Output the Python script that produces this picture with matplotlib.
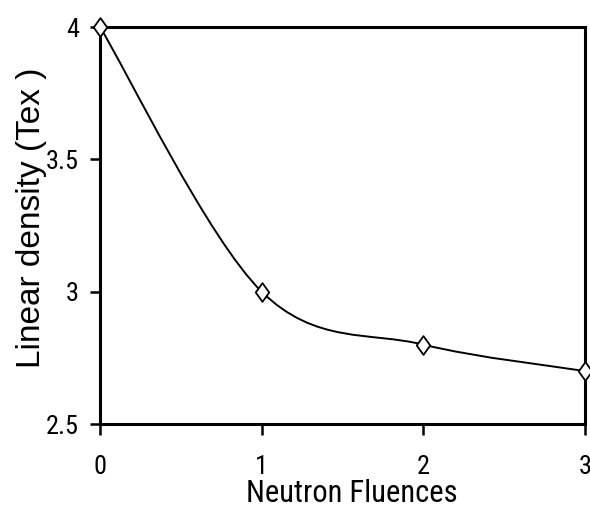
import matplotlib
matplotlib.use("Agg")
import matplotlib.pyplot as plt
from matplotlib.path import Path
from matplotlib.patches import PathPatch
import numpy as np

fluence = [0, 1, 2, 3]
density = [4.0, 3.0, 2.8, 2.7]
xticks = [0, 1, 2, 3]
yticks = [2.5, 3.0, 3.5, 4.0]
yticklabels = ["2.5", "3", "3.5", "4"]

narrow = ["Roboto Condensed", "Archivo Narrow", "Liberation Sans", "DejaVu Sans"]
regular = ["Liberation Sans", "DejaVu Sans"]

W, H = 590, 511
fig = plt.figure(figsize=(W / 100, H / 100), dpi=100)
left, right, top, bottom = 100, 585, 27, 424
ax = fig.add_axes([left / W, 1 - bottom / H, (right - left) / W, (bottom - top) / H])

# Smoothed line (Catmull-Rom style Bezier through the data points)
pts = np.column_stack([fluence, density]).astype(float)
n = len(pts)
verts = [tuple(pts[0])]
codes = [Path.MOVETO]
for i in range(n - 1):
    p0 = pts[i - 1] if i > 0 else pts[i]
    p1 = pts[i]
    p2 = pts[i + 1]
    p3 = pts[i + 2] if i + 2 < n else pts[i + 1]
    c1 = p1 + (p2 - p0) / 6.0
    c2 = p2 - (p3 - p1) / 6.0
    verts += [tuple(c1), tuple(c2), tuple(p2)]
    codes += [Path.CURVE4] * 3
ax.add_patch(PathPatch(Path(verts, codes), facecolor="none", edgecolor="black",
                       linewidth=1.4, clip_on=False, zorder=2))

diamond = Path([(0, 1), (0.72, 0), (0, -1), (-0.72, 0), (0, 1)],
               [Path.MOVETO, Path.LINETO, Path.LINETO, Path.LINETO, Path.CLOSEPOLY])
ax.plot(fluence, density, linestyle="none", marker=diamond, markersize=13.5,
        markerfacecolor="white", markeredgecolor="black", markeredgewidth=1.3,
        clip_on=False, zorder=3)

ax.set_xlim(0, 3)
ax.set_ylim(2.5, 4)
ax.set_xticks(xticks)
ax.set_xticklabels([str(v) for v in xticks], fontfamily=narrow, fontsize=19)
ax.set_yticks(yticks)
ax.set_yticklabels(yticklabels, fontfamily=narrow, fontsize=19)
ax.tick_params(axis="x", direction="out", length=8, width=1.8, pad=14)
ax.tick_params(axis="y", direction="out", length=7, width=1.8, pad=8)
for s in ax.spines.values():
    s.set_linewidth(2.2)

ax.set_xlabel("Neutron Fluences", fontfamily=narrow, fontsize=22)
ax.xaxis.set_label_coords((352 - left) / (right - left), -(479 - bottom) / (bottom - top))
ax.set_ylabel("Linear density (Tex )", fontfamily=regular, fontsize=24)
ax.yaxis.set_label_coords(-(left - 47) / (right - left), (bottom - 218) / (bottom - top))

fig.savefig("out.png", dpi=100)
